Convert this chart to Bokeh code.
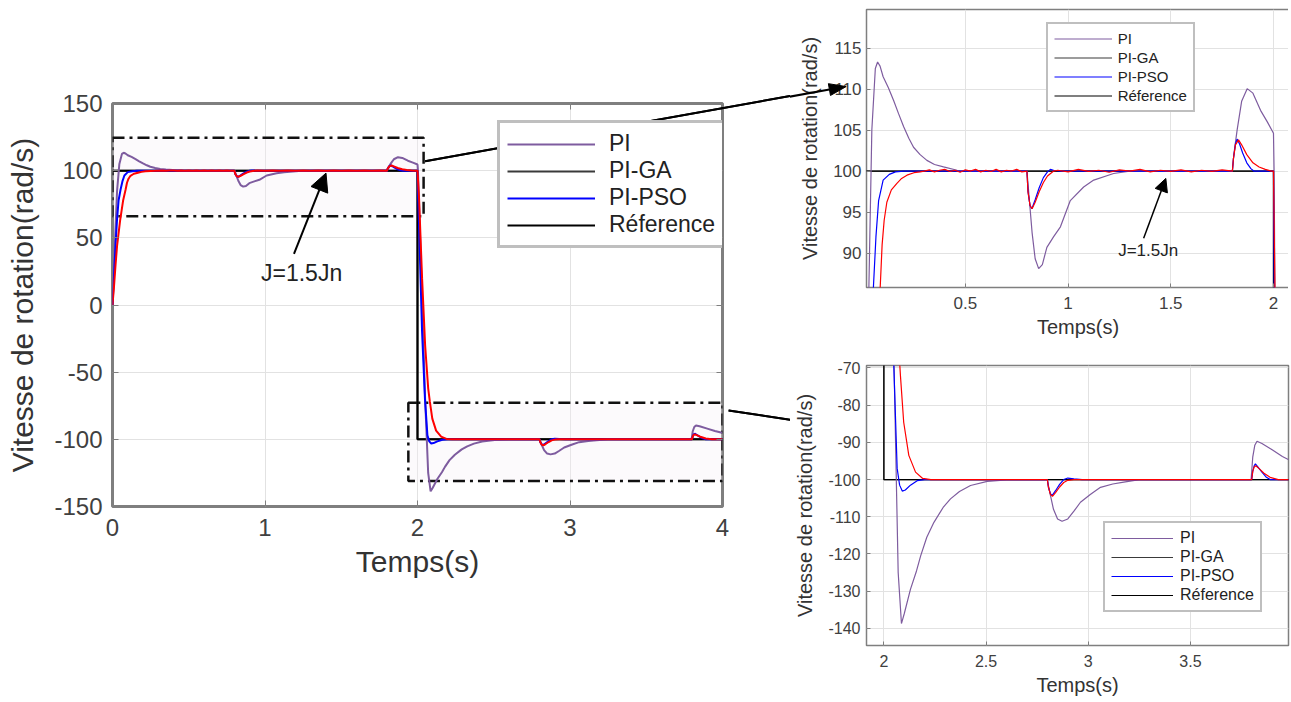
import math
from bokeh.plotting import figure
from bokeh.models import (Range1d, FixedTicker, LinearAxis, Legend, LegendItem,
                          Arrow, NormalHead, Label, NumeralTickFormatter,
                          CustomJSTickFormatter)
from bokeh.layouts import row, column
from bokeh.embed import file_html
from bokeh.resources import INLINE

# ------------------------------------------------------------------ data
t_ref = [0.0, 2.0, 2.0, 4.0]
v_ref = [100, 100, -100, -100]

t_pi = [0, 0.01, 0.02, 0.03, 0.045, 0.062, 0.073, 0.085, 0.1, 0.125, 0.151, 0.175,
        0.2, 0.225, 0.248, 0.28, 0.313, 0.35, 0.394, 0.46, 0.52, 0.6, 0.8, 0.81,
        0.825, 0.84, 0.857, 0.875, 0.897, 0.93, 0.963, 1.011, 1.076, 1.125, 1.222,
        1.3, 1.8, 1.807, 1.823, 1.845, 1.872, 1.9, 1.937, 1.97, 2.0, 2.003, 2.02,
        2.05, 2.07, 2.086, 2.1, 2.13, 2.16, 2.18, 2.21, 2.245, 2.29, 2.326, 2.37,
        2.424, 2.506, 2.6, 2.8, 2.81, 2.83, 2.85, 2.872, 2.9, 2.93, 2.962, 3.01,
        3.06, 3.12, 3.174, 3.25, 3.797, 3.805, 3.815, 3.826, 3.85, 3.9, 3.95, 3.99, 4.0]
v_pi = [0, 28, 58, 85, 105, 112.5, 113.3, 112.8, 111.5, 110.2, 108.6, 107,
        105.4, 104, 102.9, 102, 101.3, 100.8, 100.5, 100.1, 100, 100, 100, 97,
        92.5, 89.3, 88.1, 88.6, 90.7, 92, 93.2, 96.4, 98.05, 98.9, 99.7,
        100, 100, 102, 105, 108.5, 110.05, 109.5, 107.4, 106, 104.6, 100, 40,
        -70, -125, -138.7, -136, -129.5, -124.5, -120.5, -115.5, -111.5, -107.5, -105.2, -103.2,
        -101.6, -100.5, -100.1, -100, -103, -108, -110.6, -111.2, -110.6, -108.5, -106.1, -104,
        -102.1, -101.2, -100.7, -100, -100, -94, -90.8, -89.7, -90.3, -92, -93.8, -94.9, -95.1]

t_pso = [0, 0.01, 0.02, 0.03, 0.04, 0.053, 0.065, 0.078, 0.1, 0.13, 0.16, 0.2,
         0.8, 0.805, 0.815, 0.824, 0.84, 0.86, 0.88, 0.9, 0.914, 0.93, 0.96, 1.0,
         1.8, 1.805, 1.815, 1.823, 1.835, 1.85, 1.87, 1.89, 1.904, 2.0, 2.01, 2.03,
         2.049, 2.065, 2.077, 2.09, 2.105, 2.13, 2.163, 2.2, 2.8, 2.805, 2.815, 2.823,
         2.84, 2.86, 2.88, 2.9, 2.93, 2.97, 3.8, 3.805, 3.812, 3.818, 3.83, 3.85,
         3.87, 3.89, 4.0]
v_pso = [0, 22, 45, 64, 78, 86, 92, 96.4, 98.9, 99.6, 99.9, 100,
         100, 97.5, 95.8, 95.4, 96.5, 98, 99.2, 99.9, 100.2, 100.1, 100, 100,
         100, 101.5, 103.3, 103.9, 103.3, 102.2, 101, 100.3, 100, 100, 60, -20,
         -70, -97, -101.5, -103.1, -102.8, -101.5, -100.3, -100, -100, -102, -103.8, -104.3,
         -103, -101.3, -100, -99.6, -99.8, -100, -100, -97.8, -96.3, -95.8, -96.6, -98,
         -99.3, -100, -100]

t_ga = [0, 0.01, 0.02, 0.03, 0.05, 0.07, 0.086, 0.095, 0.105, 0.118, 0.14, 0.167,
        0.19, 0.216, 0.25, 0.28, 0.3, 0.325, 0.35, 0.375, 0.4, 0.425, 0.45, 0.475,
        0.5, 0.525, 0.55, 0.575, 0.6, 0.625, 0.65, 0.675, 0.7, 0.725, 0.75, 0.775,
        0.8, 0.805, 0.815, 0.825, 0.84, 0.86, 0.88, 0.9, 0.93, 0.95, 1.0, 1.05,
        1.1, 1.15, 1.2, 1.25, 1.3, 1.35, 1.4, 1.45, 1.5, 1.55, 1.6, 1.65,
        1.7, 1.75, 1.8, 1.805, 1.815, 1.83, 1.845, 1.87, 1.9, 1.93, 1.96, 1.99,
        2.0, 2.01, 2.03, 2.05, 2.07, 2.081, 2.097, 2.122, 2.155, 2.19, 2.23, 2.8,
        2.805, 2.815, 2.825, 2.84, 2.86, 2.88, 2.9, 2.93, 3.8, 3.805, 3.812, 3.82,
        3.835, 3.86, 3.89, 3.93, 4.0]
v_ga = [0, 14, 30, 44, 63, 78, 86, 91, 94, 96.2, 97.7, 98.5,
        99.1, 99.5, 99.8, 99.9, 100.0, 100.15, 99.9, 100.1, 100.2, 99.95, 100.1, 99.85,
        100.15, 100.0, 100.2, 99.9, 100.1, 99.95, 100.2, 99.9, 100.1, 100.0, 100.2, 99.9,
        100, 97.5, 95.8, 95.4, 96.2, 97.5, 98.6, 99.4, 100, 100.1, 99.9, 100.2,
        99.95, 100.1, 99.85, 100.15, 100.0, 100.2, 99.9, 100.1, 99.95, 100.15, 99.9, 100.1,
        99.95, 100.15, 100, 101.5, 103.2, 103.8, 103.2, 102, 101, 100.5, 100.2, 100,
        100, 80, 20, -30, -62, -72, -84.6, -93.5, -98, -99.7, -100, -100,
        -102, -104, -104.5, -103.5, -102, -100.8, -100.2, -100, -100, -97.8, -96.6, -96.3,
        -97, -98.3, -99.4, -100, -100]

legend_labels = ["PI", "PI-GA", "PI-PSO", "Réference"]

main_xticks = [0, 1, 2, 3, 4]
main_yticks = [-150, -100, -50, 0, 50, 100, 150]
top_xticks = [0.5, 1, 1.5, 2]
top_yticks = [90, 95, 100, 105, 110, 115]
bot_xticks = [2, 2.5, 3, 3.5]
bot_yticks = [-140, -130, -120, -110, -100, -90, -80, -70]

zoom_left = [0.0, 1.94]
zoom_right = [2.04, 4.0]
zoom_bottom = [66, -131]
zoom_top = [124.5, -72.7]

j_label = "J=1.5Jn"
j_main_tail, j_main_head, j_main_text = (1.19, 38), (1.40, 98.2), (1.24, 24)
j_top_tail, j_top_head, j_top_text = (1.368, 91.8), (1.476, 99.1), (1.39, 90.3)

# link arrows: start (main data coords) -> head (inset data coords)
link_top_start, link_top_head = (2.05, 107), (-0.08, 110.3)
link_bot_start, link_bot_head = (4.04, -78.5), (1.50, -83.6)

# ------------------------------------------------------------------ style
FONT = "Liberation Sans"
C_PI = "#7e5c9f"
C_GA = "#ff0000"
C_PSO = "#0000ff"
C_REF = "#000000"
C_GA_LEG = "#3a3a3a"
GREY = "#7f7f7f"
TXT = "#404040"

G = {
    "main": dict(ox=0, oy=0, bl=112, bt=103, fw=610, fh=403, br=68, bb=190,
                 xr=(0, 4), yr=(-150, 150)),
    "top": dict(ox=790, oy=0, bl=73, bt=9, fw=423, fh=278, br=2, bb=58,
                xr=(0.019, 2.078), yr=(85.8, 119.7)),
    "bot": dict(ox=790, oy=345, bl=76, bt=20, fw=422, fh=280, br=2, bb=52,
                xr=(1.915, 3.98), yr=(-144.6, -69.35)),
}


def to_page(g, x, y):
    px = g["ox"] + g["bl"] + (x - g["xr"][0]) / (g["xr"][1] - g["xr"][0]) * g["fw"]
    py = g["oy"] + g["bt"] + (g["yr"][1] - y) / (g["yr"][1] - g["yr"][0]) * g["fh"]
    return px, py


def to_data(g, px, py):
    x = g["xr"][0] + (px - g["ox"] - g["bl"]) / g["fw"] * (g["xr"][1] - g["xr"][0])
    y = g["yr"][1] - (py - g["oy"] - g["bt"]) / g["fh"] * (g["yr"][1] - g["yr"][0])
    return x, y


def point_at(P, Q, px):
    f = (px - P[0]) / (Q[0] - P[0])
    return px, P[1] + f * (Q[1] - P[1])


def make_fig(key, xticks, yticks, tick_size, label_size, outline_w,
             tick_std, label_std, ytick_std, ylabel_std):
    g = G[key]
    p = figure(x_range=Range1d(*g["xr"]), y_range=Range1d(*g["yr"]),
               frame_width=g["fw"], frame_height=g["fh"],
               min_border_left=g["bl"], min_border_right=g["br"],
               min_border_top=g["bt"], min_border_bottom=g["bb"],
               output_backend="svg", toolbar_location=None,
               background_fill_color="white", border_fill_color="white")
    p.outline_line_color = GREY
    p.outline_line_width = outline_w
    p.xaxis.ticker = FixedTicker(ticks=xticks)
    p.yaxis.ticker = FixedTicker(ticks=yticks)
    p.xaxis.formatter = NumeralTickFormatter(format="0.[0]")
    p.yaxis.formatter = NumeralTickFormatter(format="0.[0]")
    for ax in (p.xaxis[0], p.yaxis[0]):
        ax.axis_line_color = None
        ax.major_tick_in = 6 if key == "main" else 4
        ax.major_tick_out = 0
        ax.minor_tick_line_color = None
        ax.major_tick_line_color = GREY
        ax.major_label_text_font = FONT
        ax.major_label_text_font_size = f"{tick_size}px"
        ax.major_label_text_color = TXT
        ax.axis_label_text_font = FONT
        ax.axis_label_text_font_size = f"{label_size}px"
        ax.axis_label_text_font_style = "normal"
        ax.axis_label_text_color = "#333333"
    p.xaxis.major_label_standoff = tick_std
    p.xaxis.axis_label_standoff = label_std
    p.yaxis.major_label_standoff = ytick_std
    p.yaxis.axis_label_standoff = ylabel_std
    p.xaxis.axis_label = "Temps(s)"
    p.yaxis.axis_label = "Vitesse de rotation(rad/s)"
    p.xgrid.ticker = FixedTicker(ticks=xticks)
    p.ygrid.ticker = FixedTicker(ticks=yticks)
    p.xgrid.grid_line_color = "#e2e2e2"
    p.ygrid.grid_line_color = "#e2e2e2"
    return p


def add_series(p, lw):
    # proxy for the dark "PI-GA" legend sample, hidden under the reference line
    r_ga_leg = p.line(t_ref, v_ref, line_color=C_GA_LEG, line_width=lw)
    r_ref = p.line(t_ref, v_ref, line_color=C_REF, line_width=lw)
    r_pi = p.line(t_pi, v_pi, line_color=C_PI, line_width=lw)
    r_pso = p.line(t_pso, v_pso, line_color=C_PSO, line_width=lw)
    p.line(t_ga, v_ga, line_color=C_GA, line_width=lw)
    return [r_pi, r_ga_leg, r_pso, r_ref]


def add_legend(p, rends, loc, fsize, gw, gh, spacing, padding, standoff, bw):
    items = [LegendItem(label=l, renderers=[r]) for l, r in zip(legend_labels, rends)]
    leg = Legend(items=items, location=loc, margin=0, level="glyph",
                 label_text_font=FONT, label_text_font_size=f"{fsize}px",
                 label_text_color="#222222",
                 glyph_width=gw, glyph_height=gh, label_height=gh,
                 spacing=spacing, padding=padding, label_standoff=standoff,
                 border_line_color=GREY, border_line_width=bw,
                 background_fill_color="white", background_fill_alpha=1)
    p.add_layout(leg)


# ------------------------------------------------------------------ main plot
pm = make_fig("main", main_xticks, main_yticks, 24, 30, 3, 12, 6, 10, 12)
blank = CustomJSTickFormatter(code="return ''")
ax_top = LinearAxis(ticker=FixedTicker(ticks=main_xticks), formatter=blank,
                    axis_line_color=None, major_tick_in=6, major_tick_out=0,
                    major_tick_line_color=GREY, minor_tick_line_color=None)
ax_right = LinearAxis(ticker=FixedTicker(ticks=main_yticks), formatter=blank,
                      axis_line_color=None, major_tick_in=6, major_tick_out=0,
                      major_tick_line_color=GREY, minor_tick_line_color=None)
pm.add_layout(ax_top, "above")
pm.add_layout(ax_right, "right")

pm.quad(left=zoom_left, right=zoom_right, bottom=zoom_bottom, top=zoom_top,
        fill_color="#f6eef6", fill_alpha=0.3, line_color="#111111",
        line_width=2.5, line_dash="12 5 3 5")
rm = add_series(pm, 2)
add_legend(pm, rm, (385, 258), 23, 88, 20, 0, 7, 14, 3)

pm.add_layout(Arrow(end=NormalHead(size=18, fill_color="black", line_color="black"),
                    x_start=j_main_tail[0], y_start=j_main_tail[1],
                    x_end=j_main_head[0], y_end=j_main_head[1],
                    line_color="black", line_width=2))
pm.add_layout(Label(x=j_main_text[0], y=j_main_text[1], text=j_label,
                    text_font=FONT, text_font_size="23px", text_color="#222222",
                    text_align="center", text_baseline="middle"))

# ------------------------------------------------------------------ top inset
pt = make_fig("top", top_xticks, top_yticks, 17, 20, 1.5, 9, 4, 5, 9)
rt = add_series(pt, 1.2)
add_legend(pt, rt, (184, 175), 15, 58, 15, 2, 6, 6, 2)
pt.add_layout(Arrow(end=NormalHead(size=13, fill_color="black", line_color="black"),
                    x_start=j_top_tail[0], y_start=j_top_tail[1],
                    x_end=j_top_head[0], y_end=j_top_head[1],
                    line_color="black", line_width=1.5))
pt.add_layout(Label(x=j_top_text[0], y=j_top_text[1], text=j_label,
                    text_font=FONT, text_font_size="17px", text_color="#222222",
                    text_align="center", text_baseline="middle"))

# ------------------------------------------------------------------ bottom inset
pb = make_fig("bot", bot_xticks, bot_yticks, 16, 20, 1.5, 9, 4, 6, 9)
rb = add_series(pb, 1.2)
add_legend(pb, rb, (237, 33), 16, 62, 16, 1, 6, 7, 2)

# ------------------------------------------------------------------ linking arrows
SEAM = G["top"]["ox"]
HEAD_L, HEAD_W = 17, 6


def link(start_data, head_data, key, fig):
    S = to_page(G["main"], *start_data)
    E = to_page(G[key], *head_data)
    dx, dy = E[0] - S[0], E[1] - S[1]
    L = math.hypot(dx, dy)
    ux, uy = dx / L, dy / L
    nx, ny = -uy, ux
    base = (E[0] - HEAD_L * ux, E[1] - HEAD_L * uy)
    left = (base[0] + HEAD_W * nx, base[1] + HEAD_W * ny)
    right = (base[0] - HEAD_W * nx, base[1] - HEAD_W * ny)
    A = point_at(S, E, SEAM + 20)
    B = point_at(S, E, SEAM - 20)
    m_pts = [to_data(G["main"], *P) for P in (S, A)]
    for lvl in ("annotation", "overlay"):
        pm.line([q[0] for q in m_pts], [q[1] for q in m_pts], line_color="black",
                line_width=2, level=lvl)
    t_pts = [to_data(G[key], *P) for P in (B, base)]
    fig.line([q[0] for q in t_pts], [q[1] for q in t_pts], line_color="black",
             line_width=2, level="overlay")
    tri = [to_data(G[key], *P) for P in (E, left, right)]
    fig.patch([q[0] for q in tri], [q[1] for q in tri], fill_color="black",
              line_color="black", line_width=1, level="overlay")


link(link_top_start, link_top_head, "top", pt)
link(link_bot_start, link_bot_head, "bot", pb)

layout = row(pm, column(pt, pb, spacing=0), spacing=0)
open("out.html", "w").write(file_html(layout, INLINE))
